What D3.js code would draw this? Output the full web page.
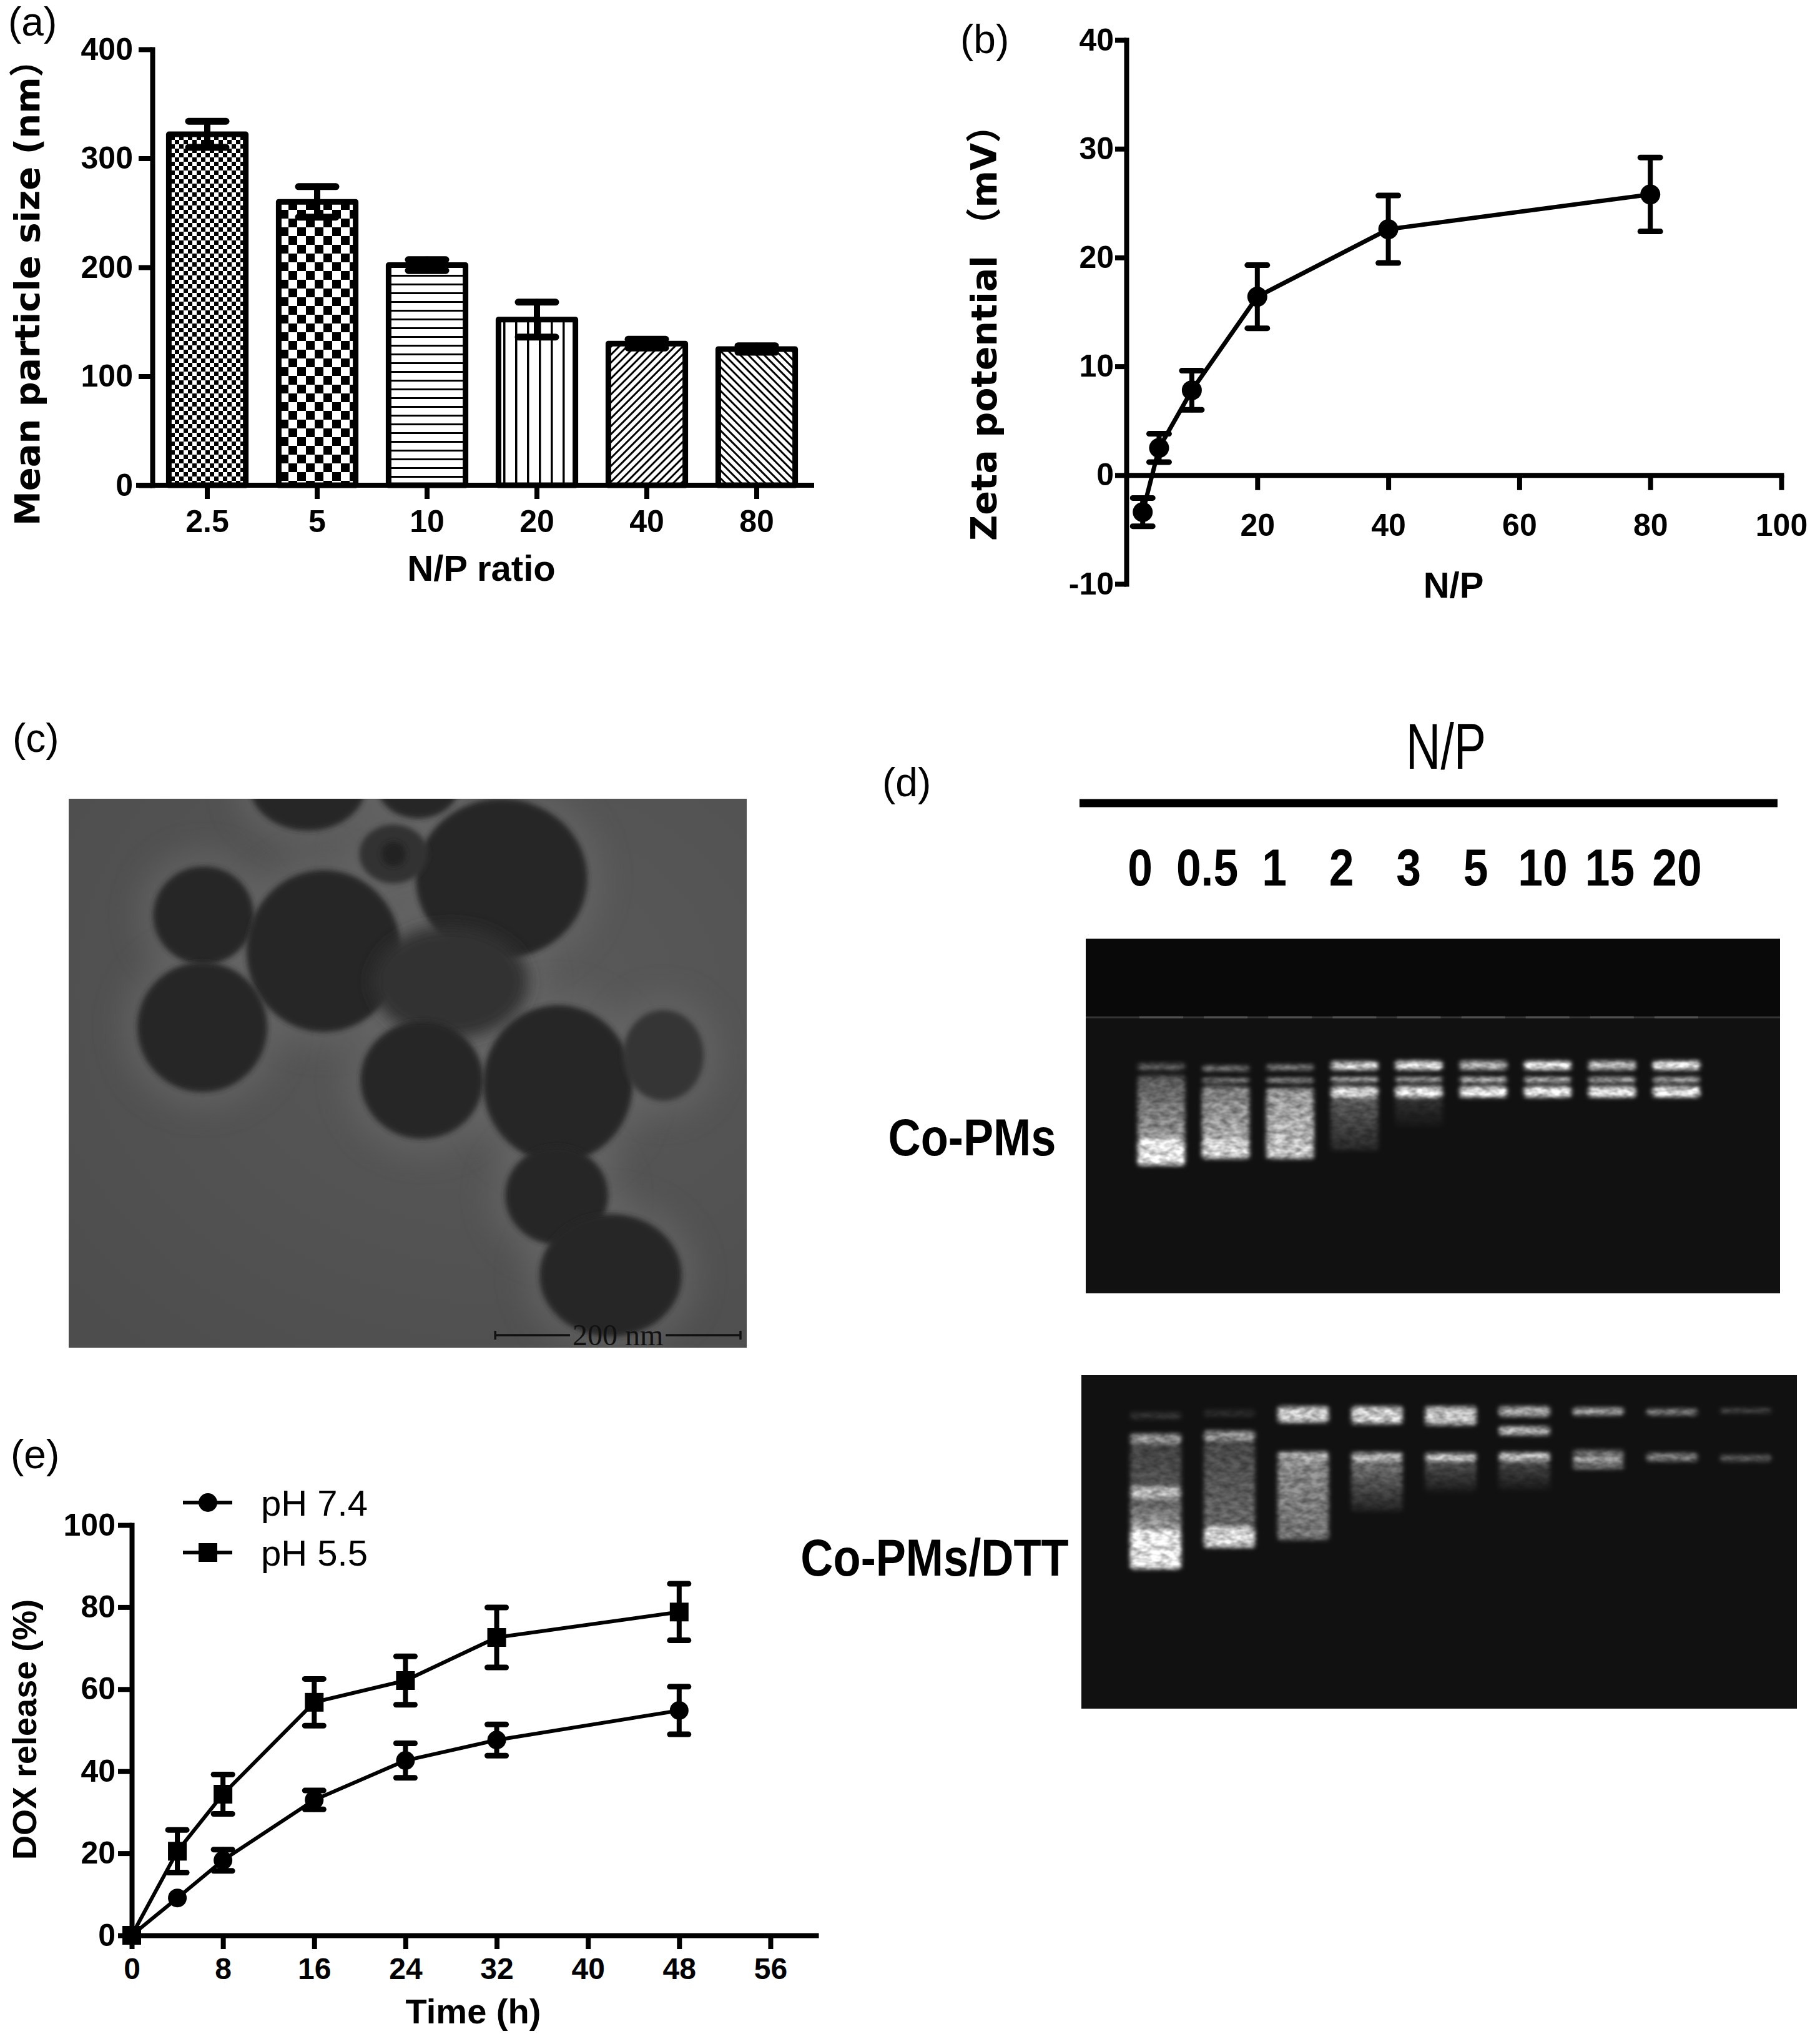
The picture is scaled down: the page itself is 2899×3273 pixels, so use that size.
<!DOCTYPE html>
<html><head><meta charset="utf-8">
<script src="https://cdn.jsdelivr.net/npm/d3@7"></script>
<style>body{margin:0;background:#fff}svg{display:block}</style>
</head><body>
<svg id="fig" width="2899" height="3273" xmlns="http://www.w3.org/2000/svg"></svg>
<script>
// ================= DATA =================
// (a) particle size vs N/P
const npRatios = ["2.5", "5", "10", "20", "40", "80"];
const sizeMean = [322, 260, 202, 152, 130, 125];
const sizeSD = [12, 14, 5, 16, 4, 3];
const sizeTicks = [0, 100, 200, 300, 400];
// (b) zeta potential vs N/P
const zetaNP = [2.5, 5, 10, 20, 40, 80];
const zetaMean = [-3.4, 2.5, 7.8, 16.4, 22.6, 25.8];
const zetaSD = [1.3, 1.3, 1.8, 2.9, 3.1, 3.4];
const zetaXTicks = [20, 40, 60, 80, 100];
const zetaYTicks = [-10, 0, 10, 20, 30, 40];
// (e) DOX release
const timeH = [0, 4, 8, 16, 24, 32, 48];
const release74 = [0, 9.1, 18.3, 33.0, 42.6, 47.6, 54.8];
const sd74 = [0, 0, 2.6, 2.3, 4.2, 3.8, 5.8];
const release55 = [0, 20.5, 34.4, 56.8, 62.1, 72.6, 78.8];
const sd55 = [0, 5.2, 4.8, 5.7, 5.9, 7.3, 6.9];
const timeTicks = [0, 8, 16, 24, 32, 40, 48, 56];
const releaseTicks = [0, 20, 40, 60, 80, 100];
const seriesNames = ["pH 7.4", "pH 5.5"];
// (d) gel retardation: lanes and bands [lane, startFrac, endFrac, intensityStart, intensityEnd]
const gelLanes = ["0", "0.5", "1", "2", "3", "5", "10", "15", "20"];
const gelNames = ["Co-PMs", "Co-PMs/DTT"];
const gel1Bands = [
  ["0", .352, .370, .35, .35], ["0", .386, .562, .32, .62], ["0", .562, .639, .95, 1],
  ["0.5", .359, .373, .5, .5], ["0.5", .394, .405, .6, .6], ["0.5", .417, .562, .5, .7], ["0.5", .562, .620, .9, .9],
  ["1", .356, .370, .55, .55], ["1", .394, .405, .7, .7], ["1", .421, .620, .6, .85],
  ["2", .347, .370, .95, .95], ["2", .391, .403, .8, .8], ["2", .417, .447, .9, .9], ["2", .447, .597, .35, .1],
  ["3", .345, .370, 1, 1], ["3", .391, .403, .75, .75], ["3", .417, .447, 1, 1], ["3", .447, .53, .15, .02],
  ["5", .345, .370, .75, .75], ["5", .391, .405, .85, .85], ["5", .417, .447, 1, 1],
  ["10", .345, .370, .95, .95], ["10", .391, .405, .8, .8], ["10", .417, .447, 1, 1],
  ["15", .345, .370, .8, .8], ["15", .391, .405, .75, .75], ["15", .417, .447, 1, 1],
  ["20", .345, .370, 1, 1], ["20", .391, .405, .75, .75], ["20", .417, .447, 1, 1]
];
const gel2Bands = [
  ["0", .112, .131, .15, .15], ["0", .176, .206, .6, .6], ["0", .206, .333, .22, .3], ["0", .333, .371, .75, .75],
  ["0", .371, .464, .35, .65], ["0", .464, .581, 1, 1],
  ["0.5", .105, .124, .12, .12], ["0.5", .167, .199, .6, .6], ["0.5", .202, .455, .25, .4], ["0.5", .455, .517, .9, .9],
  ["1", .094, .142, .85, .85], ["1", .230, .258, .7, .7], ["1", .258, .494, .55, .45],
  ["2", .094, .146, .85, .85], ["2", .232, .258, .75, .75], ["2", .258, .408, .45, .08],
  ["3", .094, .150, .8, .8], ["3", .234, .258, .8, .8], ["3", .258, .35, .3, .04],
  ["5", .094, .124, .7, .7], ["5", .154, .180, .75, .75], ["5", .232, .258, .8, .8], ["5", .258, .343, .25, .04],
  ["10", .098, .120, .65, .65], ["10", .225, .243, .45, .45], ["10", .245, .262, .7, .7], ["10", .266, .281, .5, .5],
  ["15", .101, .120, .5, .5], ["15", .234, .258, .5, .5],
  ["20", .101, .112, .3, .3], ["20", .240, .258, .35, .35]
];
// (c) TEM: particles [x nm, y nm, rx nm, ry nm, density]
const temFieldNm = [553, 447];
const particles = [
  [195, -10, 47, 36, 1], [285, -10, 33, 26, 1], [353, 65, 70, 65, 1], [265, 45, 28, 24, 0.75],
  [110, 95, 41, 40, 1], [208, 124, 63, 66, 1], [109, 186, 53, 53, 1], [311, 149, 64, 46, 0.7],
  [288, 229, 50, 48, 1], [399, 232, 61, 64, 1], [485, 209, 33, 37, 0.55], [398, 323, 42, 40, 1],
  [442, 388, 58, 50, 1]
];
const scaleBarNm = 200;

// ================= SETUP =================
const svg = d3.select("#fig");
const SANS = "'Liberation Sans', Arial, Helvetica, sans-serif";
const WIDE = "'DejaVu Sans', Verdana, 'Noto Sans CJK SC', sans-serif";
const SERIF = "'Liberation Serif', 'Times New Roman', serif";
const defs = svg.append("defs");
const fmt = d => String(d);

function label(t, x, y) {
  svg.append("text").attr("x", x).attr("y", y).attr("font-family", SANS)
    .attr("font-size", 64).attr("fill", "#000").text(t);
}
function styleAxis(g, fs) {
  g.selectAll(".domain").attr("stroke", "#000").attr("stroke-width", 8).attr("stroke-linecap", "square");
  g.selectAll(".tick line").attr("stroke", "#000").attr("stroke-width", 8);
  g.selectAll(".tick text").attr("font-family", SANS).attr("font-weight", "bold")
    .attr("font-size", fs).attr("fill", "#000");
}
function condensed(x, y, sx, txt, fs, weight, anchor) {
  svg.append("g").attr("transform", `translate(${x},${y}) scale(${sx},1)`).append("text")
    .attr("text-anchor", anchor || "middle").attr("font-family", SANS).attr("font-size", fs)
    .attr("font-weight", weight || "normal").attr("fill", "#000").text(txt);
}

// ---- patterns for bars ----
function pat(id, w, h, build, transform) {
  const p = defs.append("pattern").attr("id", id).attr("patternUnits", "userSpaceOnUse")
    .attr("width", w).attr("height", h);
  if (transform) p.attr("patternTransform", transform);
  p.append("rect").attr("width", w).attr("height", h).attr("fill", "#fff");
  build(p);
}
pat("p0", 14, 14, p => { p.append("rect").attr("width", 7).attr("height", 7); p.append("rect").attr("x", 7).attr("y", 7).attr("width", 7).attr("height", 7); });
pat("p1", 28, 28, p => { p.append("rect").attr("width", 14).attr("height", 14); p.append("rect").attr("x", 14).attr("y", 14).attr("width", 14).attr("height", 14); });
pat("p2", 20, 14, p => p.append("rect").attr("y", 6).attr("width", 20).attr("height", 3));
pat("p3", 19, 20, p => p.append("rect").attr("x", 8).attr("width", 3.5).attr("height", 20));
pat("p4", 9, 20, p => p.append("rect").attr("x", 3).attr("width", 3).attr("height", 20), "rotate(45)");
pat("p5", 9, 20, p => p.append("rect").attr("x", 3).attr("width", 3).attr("height", 20), "rotate(-45)");

// ================= PANEL (a) =================
{
  const x = d3.scaleBand().domain(npRatios).range([244, 1300]).paddingInner(0.3).paddingOuter(0.15);
  const y = d3.scaleLinear().domain([0, 400]).range([777, 79]);
  const g = svg.append("g");
  g.selectAll("rect.bar").data(npRatios).join("rect")
    .attr("x", d => x(d)).attr("width", x.bandwidth())
    .attr("y", (d, i) => y(sizeMean[i])).attr("height", (d, i) => y(0) - y(sizeMean[i]))
    .attr("fill", (d, i) => `url(#p${i})`).attr("stroke", "#000").attr("stroke-width", 9)
    .attr("stroke-linejoin", "round");
  const eb = g.append("g").attr("stroke", "#000").attr("stroke-linecap", "round");
  npRatios.forEach((d, i) => {
    const cx = x(d) + x.bandwidth() / 2;
    const hi = y(sizeMean[i] + sizeSD[i]), lo = y(sizeMean[i] - sizeSD[i]);
    eb.append("line").attr("x1", cx).attr("x2", cx).attr("y1", hi).attr("y2", lo).attr("stroke-width", 10);
    [hi, lo].forEach(v => eb.append("line").attr("x1", cx - 30).attr("x2", cx + 30).attr("y1", v).attr("y2", v).attr("stroke-width", 11));
  });
  const xa = svg.append("g").attr("transform", `translate(0,${y(0)})`)
    .call(d3.axisBottom(x).tickSize(22).tickSizeOuter(0).tickPadding(17));
  xa.select(".domain").attr("d", `M222,0H1300`);
  styleAxis(xa, 50);
  const ya = svg.append("g").attr("transform", "translate(244,0)")
    .call(d3.axisLeft(y).tickValues(sizeTicks).tickFormat(fmt).tickSize(22).tickSizeOuter(0).tickPadding(9));
  styleAxis(ya, 50);
  svg.append("text").attr("x", 771).attr("y", 930).attr("text-anchor", "middle")
    .attr("font-family", SANS).attr("font-weight", "bold").attr("font-size", 58).text("N/P ratio");
  svg.append("text").attr("transform", "translate(63,842) rotate(-90)")
    .attr("font-family", WIDE).attr("font-weight", "bold").attr("font-size", 56).text("Mean particle size (nm\uFF09");
  label("(a)", 13, 57);
}

// ================= PANEL (b) =================
{
  const x = d3.scaleLinear().domain([0, 100]).range([1804, 2853]);
  const y = d3.scaleLinear().domain([-10, 40]).range([935, 64]);
  const xa = svg.append("g").attr("transform", `translate(0,${y(0)})`)
    .call(d3.axisBottom(x).tickValues(zetaXTicks).tickFormat(fmt).tickSize(24).tickSizeOuter(0).tickPadding(38));
  styleAxis(xa, 50);
  const ya = svg.append("g").attr("transform", `translate(${x(0)},0)`)
    .call(d3.axisLeft(y).tickValues(zetaYTicks).tickFormat(fmt).tickSize(18).tickSizeOuter(0).tickPadding(2));
  styleAxis(ya, 50);
  const pts = zetaNP.map((v, i) => [x(v), y(zetaMean[i]), y(zetaMean[i] + zetaSD[i]), y(zetaMean[i] - zetaSD[i])]);
  svg.append("path").attr("d", d3.line()(pts.map(p => [p[0], p[1]])))
    .attr("fill", "none").attr("stroke", "#000").attr("stroke-width", 7).attr("stroke-linejoin", "round");
  const eb = svg.append("g").attr("stroke", "#000").attr("stroke-linecap", "round");
  pts.forEach(p => {
    eb.append("line").attr("x1", p[0]).attr("x2", p[0]).attr("y1", p[2]).attr("y2", p[3]).attr("stroke-width", 8);
    [p[2], p[3]].forEach(v => eb.append("line").attr("x1", p[0] - 16).attr("x2", p[0] + 16).attr("y1", v).attr("y2", v).attr("stroke-width", 9));
  });
  svg.append("g").selectAll("circle").data(pts).join("circle")
    .attr("cx", p => p[0]).attr("cy", p => p[1]).attr("r", 16).attr("fill", "#000");
  svg.append("text").attr("x", 2328).attr("y", 957).attr("text-anchor", "middle")
    .attr("font-family", SANS).attr("font-weight", "bold").attr("font-size", 58).text("N/P");
  svg.append("text").attr("transform", "translate(1596,866) rotate(-90)")
    .attr("font-family", WIDE).attr("font-weight", "bold").attr("font-size", 57).text("Zeta potential \uFF08mV\uFF09");
  label("(b)", 1538, 85);
}

// ================= PANEL (c) TEM =================
{
  const fx = d3.scaleLinear().domain([0, temFieldNm[0]]).range([110, 1196]);
  const fy = d3.scaleLinear().domain([0, temFieldNm[1]]).range([1279, 2158]);
  const k = fx(1) - fx(0);
  defs.append("clipPath").attr("id", "temClip").append("rect")
    .attr("x", fx(0)).attr("y", fy(0)).attr("width", fx(temFieldNm[0]) - fx(0)).attr("height", fy(temFieldNm[1]) - fy(0));
  const rg = defs.append("radialGradient").attr("id", "temBg").attr("cx", 0.65).attr("cy", 0.35).attr("r", 0.85);
  rg.append("stop").attr("offset", 0).attr("stop-color", "#5a5a5a");
  rg.append("stop").attr("offset", 1).attr("stop-color", "#4d4d4d");
  defs.append("filter").attr("id", "halo").attr("x", "-50%").attr("y", "-50%").attr("width", "200%").attr("height", "200%")
    .append("feGaussianBlur").attr("stdDeviation", 22);
  defs.append("filter").attr("id", "soft").attr("x", "-20%").attr("y", "-20%").attr("width", "140%").attr("height", "140%")
    .append("feGaussianBlur").attr("stdDeviation", 4);
  defs.append("filter").attr("id", "softer").attr("x", "-30%").attr("y", "-30%").attr("width", "160%").attr("height", "160%")
    .append("feGaussianBlur").attr("stdDeviation", 12);
  const g = svg.append("g").attr("clip-path", "url(#temClip)");
  g.append("rect").attr("x", fx(0)).attr("y", fy(0)).attr("width", fx(temFieldNm[0]) - fx(0))
    .attr("height", fy(temFieldNm[1]) - fy(0)).attr("fill", "url(#temBg)");
  g.append("g").selectAll("ellipse").data(particles).join("ellipse")
    .attr("cx", d => fx(d[0])).attr("cy", d => fy(d[1])).attr("rx", d => (d[2] + 14) * k).attr("ry", d => (d[3] + 14) * k)
    .attr("fill", "#6a6a6a").attr("opacity", 0.5).attr("filter", "url(#halo)");
  // the out-of-focus particle sitting behind the cluster is drawn with a wider blur
  g.append("g").selectAll("ellipse").data(particles).join("ellipse")
    .attr("cx", d => fx(d[0])).attr("cy", d => fy(d[1])).attr("rx", d => d[2] * k).attr("ry", d => d[3] * k)
    .attr("fill", d => d3.interpolateRgb("#474747", "#282828")(d[4]))
    .attr("filter", (d, i) => i === 7 ? "url(#softer)" : "url(#soft)");
  g.append("circle").attr("cx", fx(particles[3][0])).attr("cy", fy(particles[3][1])).attr("r", 10 * k)
    .attr("fill", "#222").attr("filter", "url(#soft)");
  // scale bar
  const x0 = fx(temFieldNm[0]) - 10 - scaleBarNm * k, x1 = fx(temFieldNm[0]) - 10, yb = 2138;
  const t = svg.append("text").attr("x", (x0 + x1) / 2).attr("y", 2154).attr("text-anchor", "middle")
    .attr("font-family", SERIF).attr("font-size", 48).attr("fill", "#111").text(scaleBarNm + " nm");
  const tw = t.node().getComputedTextLength();
  const sb = svg.append("g").attr("stroke", "#111").attr("stroke-width", 3.5);
  sb.append("line").attr("x1", x0).attr("x2", (x0 + x1) / 2 - tw / 2 - 4).attr("y1", yb).attr("y2", yb);
  sb.append("line").attr("x1", (x0 + x1) / 2 + tw / 2 + 4).attr("x2", x1).attr("y1", yb).attr("y2", yb);
  [x0, x1].forEach(v => sb.append("line").attr("x1", v).attr("x2", v).attr("y1", yb - 7).attr("y2", yb + 7));
  label("(c)", 20, 1204);
}

// ================= PANEL (d) GELS =================
{
  const f = defs.append("filter").attr("id", "gelTex").attr("x", "-30%").attr("y", "-30%").attr("width", "160%").attr("height", "160%");
  f.append("feGaussianBlur").attr("in", "SourceGraphic").attr("stdDeviation", 3.5).attr("result", "b");
  f.append("feTurbulence").attr("type", "fractalNoise").attr("baseFrequency", "0.07 0.12").attr("numOctaves", 2).attr("seed", 7).attr("result", "n");
  f.append("feColorMatrix").attr("in", "n").attr("type", "matrix")
    .attr("values", "0 0 0 0 1  0 0 0 0 1  0 0 0 0 1  1.6 0 0 0 -0.2").attr("result", "na");
  f.append("feComposite").attr("in", "b").attr("in2", "na").attr("operator", "arithmetic")
    .attr("k1", 0.55).attr("k2", 0.6).attr("k3", 0).attr("k4", 0);

  function drawGel(bands, laneRange, fr, laneW, id, wellLine) {
    const lx = d3.scalePoint().domain(gelLanes).range(laneRange);
    const my = d3.scaleLinear().domain([0, 1]).range([fr.y0, fr.y1]);
    svg.append("rect").attr("x", fr.x0).attr("y", fr.y0).attr("width", fr.x1 - fr.x0).attr("height", fr.y1 - fr.y0)
      .attr("fill", "#111");
    if (wellLine) {
      svg.append("rect").attr("x", fr.x0).attr("y", fr.y0).attr("width", fr.x1 - fr.x0).attr("height", my(wellLine) - fr.y0)
        .attr("fill", "#090909");
      svg.append("line").attr("x1", fr.x0).attr("x2", fr.x1).attr("y1", my(wellLine)).attr("y2", my(wellLine))
        .attr("stroke", "#353535").attr("stroke-width", 3);
      svg.append("g").selectAll("line").data(gelLanes).join("line")
        .attr("x1", d => lx(d) - 35).attr("x2", d => lx(d) + 35).attr("y1", my(wellLine)).attr("y2", my(wellLine))
        .attr("stroke", "#505050").attr("stroke-width", 3);
    }
    bands.forEach((b, i) => {
      const lg = defs.append("linearGradient").attr("id", `${id}_${i}`).attr("x1", 0).attr("y1", 0).attr("x2", 0).attr("y2", 1);
      lg.append("stop").attr("offset", 0).attr("stop-color", "#f6f6f6").attr("stop-opacity", b[3]);
      lg.append("stop").attr("offset", 1).attr("stop-color", "#f6f6f6").attr("stop-opacity", b[4]);
    });
    svg.append("g").attr("filter", "url(#gelTex)").selectAll("rect").data(bands).join("rect")
      .attr("x", b => lx(b[0]) - laneW / 2).attr("width", laneW)
      .attr("y", b => my(b[1])).attr("height", b => my(b[2]) - my(b[1]))
      .attr("rx", 5).attr("fill", (b, i) => `url(#${id}_${i})`);
    return lx;
  }
  drawGel(gel1Bands, [1860, 2685], {x0: 1739, x1: 2851, y0: 1503, y1: 2071}, 76, "g1", 0.222);
  drawGel(gel2Bands, [1851, 2796], {x0: 1732, x1: 2878, y0: 2202, y1: 2736}, 82, "g2", null);
  // header
  condensed(2316, 1231, 0.74, "N/P", 104, "normal");
  svg.append("line").attr("x1", 1729).attr("x2", 2847).attr("y1", 1286).attr("y2", 1286)
    .attr("stroke", "#000").attr("stroke-width", 13);
  const labelX = d3.scalePoint().domain(gelLanes).range([1826, 2686]);
  gelLanes.forEach(d => condensed(labelX(d), 1418, 0.85, d, 84, "bold"));
  const gy = [1850, 2523], gx = [1557, 1497];
  gelNames.forEach((n, i) => condensed(gx[i], gy[i], 0.86, n, 84, "bold"));
  label("(d)", 1413, 1275);
}

// ================= PANEL (e) =================
{
  const x = d3.scaleLinear().domain([0, 60]).range([211, 1307]);
  const y = d3.scaleLinear().domain([0, 100]).range([3099, 2442]);
  const xa = svg.append("g").attr("transform", `translate(0,${y(0)})`)
    .call(d3.axisBottom(x).tickValues(timeTicks).tickFormat(fmt).tickSize(22).tickSizeOuter(0).tickPadding(14));
  styleAxis(xa, 48);
  const ya = svg.append("g").attr("transform", `translate(${x(0)},0)`)
    .call(d3.axisLeft(y).tickValues(releaseTicks).tickFormat(fmt).tickSize(22).tickSizeOuter(0).tickPadding(4));
  styleAxis(ya, 50);
  const series = [
    {name: seriesNames[0], v: release74, sd: sd74, shape: "circle"},
    {name: seriesNames[1], v: release55, sd: sd55, shape: "square"}
  ];
  series.forEach(s => {
    const pts = timeH.map((t, i) => [x(t), y(s.v[i]), y(s.v[i] + s.sd[i]), y(s.v[i] - s.sd[i])]);
    svg.append("path").attr("d", d3.line()(pts.map(p => [p[0], p[1]])))
      .attr("fill", "none").attr("stroke", "#000").attr("stroke-width", 6).attr("stroke-linejoin", "round");
    const eb = svg.append("g").attr("stroke", "#000").attr("stroke-linecap", "round");
    pts.forEach((p, i) => {
      if (s.sd[i] <= 0) return;
      eb.append("line").attr("x1", p[0]).attr("x2", p[0]).attr("y1", p[2]).attr("y2", p[3]).attr("stroke-width", 8);
      [p[2], p[3]].forEach(v => eb.append("line").attr("x1", p[0] - 15).attr("x2", p[0] + 15).attr("y1", v).attr("y2", v).attr("stroke-width", 9));
    });
    const m = svg.append("g");
    pts.forEach(p => {
      if (s.shape === "circle") m.append("circle").attr("cx", p[0]).attr("cy", p[1]).attr("r", 15);
      else m.append("rect").attr("x", p[0] - 15).attr("y", p[1] - 15).attr("width", 30).attr("height", 30);
    });
  });
  // legend
  series.forEach((s, i) => {
    const ly = 2406 + i * 80;
    svg.append("line").attr("x1", 293).attr("x2", 372).attr("y1", ly).attr("y2", ly).attr("stroke", "#000").attr("stroke-width", 6);
    if (s.shape === "circle") svg.append("circle").attr("cx", 333).attr("cy", ly).attr("r", 15);
    else svg.append("rect").attr("x", 318).attr("y", ly - 15).attr("width", 30).attr("height", 30);
    svg.append("text").attr("x", 418).attr("y", ly + 21).attr("font-family", SANS).attr("font-size", 58).text(s.name);
  });
  svg.append("text").attr("x", 758).attr("y", 3240).attr("text-anchor", "middle")
    .attr("font-family", SANS).attr("font-weight", "bold").attr("font-size", 56).text("Time (h)");
  svg.append("text").attr("transform", "translate(58,2978) rotate(-90)")
    .attr("font-family", SANS).attr("font-weight", "bold").attr("font-size", 54).text("DOX release (%)");
  label("(e)", 17, 2351);
}
</script>
</body></html>
